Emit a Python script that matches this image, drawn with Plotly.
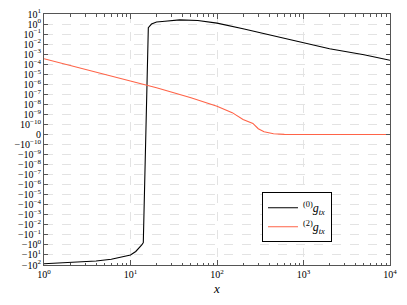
import numpy as np
import plotly.graph_objects as go

# ---- data ----
x_g0 = [1, 2, 4, 6, 8, 10, 11.5, 12.5, 13.5, 14.06, 16.07, 17.5, 20, 25, 30, 37, 60, 100, 200, 500, 1000, 2000, 5000, 10000]
y_g0 = [-75, -55, -40, -27, -17, -10, -4.5, -2.2, -1.0, -0.6, 0.43, 1.0, 1.6, 1.9, 2.3, 2.6, 2.25, 1.23, 0.34, 0.054, 0.0155, 0.0035, 8.7e-4, 2.5e-4]

x_g2 = [1, 2, 3, 5, 10, 20, 50, 100, 150, 200, 260, 300, 350, 450, 600, 1000, 10000]
y_g2 = [3.5e-4, 7.2e-5, 2.9e-5, 9.1e-6, 1.9e-6, 4.5e-7, 4.5e-8, 6.6e-9, 1.5e-9, 3.1e-10, 1.26e-10, 5.7e-11, 2.7e-11, 7e-12, 1e-12, 0, 0]

y_tick_values = [10.0**k for k in range(1, -11, -1)] + [0.0] + [-(10.0**k) for k in range(-10, 3)]
y_tick_labels = ([f"10<sup>{k}</sup>".replace("-", "−") for k in range(1, -11, -1)] + ["0"] +
                 [f"−10<sup>{k}</sup>".replace("-", "−") for k in range(-10, 3)])
x_tick_values = [1, 10, 100, 1000, 10000]
x_tick_labels = ["10<sup>0</sup>", "10<sup>1</sup>", "10<sup>2</sup>", "10<sup>3</sup>", "10<sup>4</sup>"]
x_minor_values = [m * 10**k for k in range(0, 4) for m in range(2, 10)]

LINTHRESH = 1e-10


def symlog(v):
    v = np.asarray(v, dtype=float)
    a = np.abs(v)
    out = np.where(a <= LINTHRESH, v / LINTHRESH,
                   np.sign(v) * (1 + np.log10(np.maximum(a, LINTHRESH) / LINTHRESH)))
    return out


FONT = "Liberation Serif, DejaVu Serif, serif"

fig = go.Figure()
fig.add_trace(go.Scatter(x=x_g0, y=symlog(y_g0), mode="lines",
                         line=dict(color="black", width=1.1),
                         name="<sup>(0)</sup><i>g</i><sub><i>tx</i></sub>"))
fig.add_trace(go.Scatter(x=x_g2, y=symlog(y_g2), mode="lines",
                         line=dict(color="#ff6347", width=1.1),
                         name="<sup>(2)</sup><i>g</i><sub><i>tx</i></sub>"))

# the page body has an 8px default margin, so the figure is sized to fit the window
fig.update_layout(
    width=399, height=297,
    margin=dict(l=36, r=17, t=6, b=40, autoexpand=False),
    paper_bgcolor="white", plot_bgcolor="white",
    font=dict(family=FONT, size=10, color="black"),
    showlegend=True,
    legend=dict(x=0.63, y=0.29, xanchor="left", yanchor="top",
                bordercolor="black", borderwidth=1, bgcolor="white",
                itemwidth=30,
                font=dict(family=FONT, size=12), tracegroupgap=0),
)
fig.update_xaxes(
    type="log", range=[0, 4], automargin=False,
    tickvals=x_tick_values, ticktext=x_tick_labels,
    ticks="inside", ticklen=5, tickcolor="#555",
    showline=True, linecolor="#555", linewidth=1, mirror="allticks",
    showgrid=True, gridcolor="#e3e3e3", griddash="dash", gridwidth=1,
    minor=dict(tickvals=x_minor_values, ticks="inside", ticklen=2.5, tickcolor="#555", showgrid=False),
    zeroline=False, ticklabeloverflow="allow",
    title=dict(text="<i>x</i>", font=dict(family=FONT, size=13), standoff=4),
    tickfont=dict(family=FONT, size=10),
)
fig.update_yaxes(
    range=[-13, 12], automargin=False,
    tickvals=list(symlog(y_tick_values)), ticktext=y_tick_labels,
    ticks="inside", ticklen=4, tickcolor="#555",
    showline=True, linecolor="#555", linewidth=1, mirror="allticks",
    showgrid=True, gridcolor="#e3e3e3", griddash="dash", gridwidth=1,
    zeroline=False, ticklabeloverflow="allow",
    tickfont=dict(family=FONT, size=10),
)

fig.write_html("out.html")
